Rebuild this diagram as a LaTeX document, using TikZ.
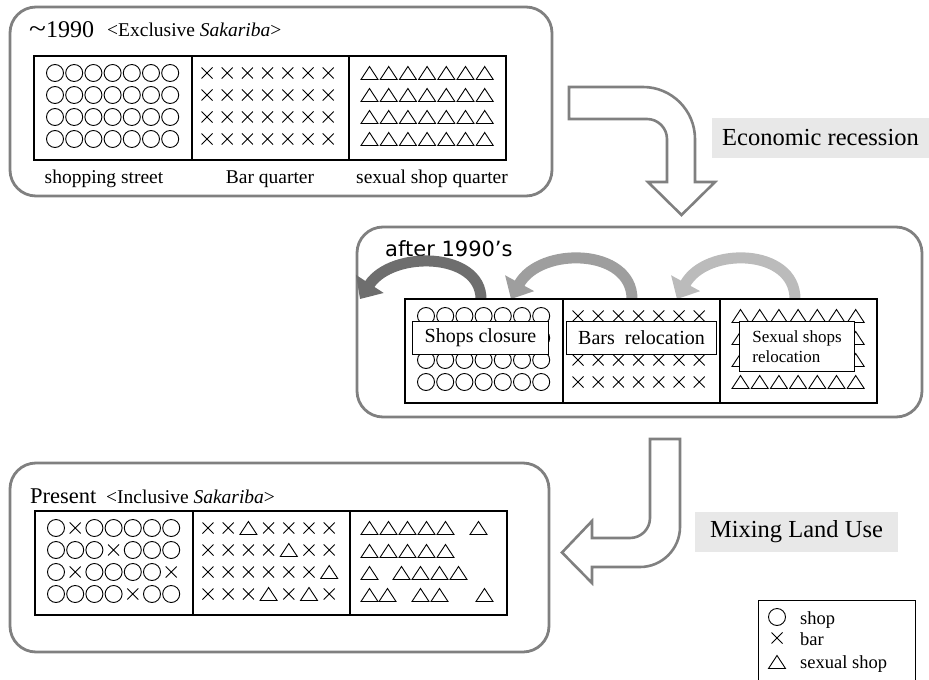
\documentclass[tikz,border=0pt]{standalone}
\usepackage{fontspec}
\setmainfont{Liberation Serif}
\newfontfamily\gothic{DejaVu Sans}
\usetikzlibrary{arrows.meta,calc}
\definecolor{panelgray}{HTML}{808080}
\definecolor{labelbg}{HTML}{E8E8E8}
\definecolor{arrdark}{HTML}{6E6E6E}
\definecolor{arrmid}{HTML}{9E9E9E}
\definecolor{arrlight}{HTML}{BBBBBB}
\newcommand{\setfs}[1]{\fontsize{#1}{#1}\selectfont}
\newcommand{\symb}[3]{%
  \if o#1\draw[sym] (#2,#3) circle[radius=8.5pt];\fi
  \if x#1\draw[sym,shift={(#2,#3)}] (-5.5,-5.5) -- (5.5,5.5) (-5.5,5.5) -- (5.5,-5.5);\fi
  \if t#1\draw[sym,shift={(#2,#3)}] (-8.5,6.5) -- (0,-6.5) -- (8.5,6.5) -- cycle;\fi}
% \symcol{ox}{oy}{x0}{dx}{rows}
\newcommand{\symcol}[5]{%
  \foreach \rw [count=\r from 0] in {#5} {
    \pgfmathsetmacro\yy{#2+{17,39,61,83}[\r]}
    \foreach \s [count=\i from 0] in \rw {
      \pgfmathsetmacro\xx{#1+#3+#4*\i}
      \symb{\s}{\xx}{\yy}
    }
  }}
\newcommand{\gridframe}[2]{%
  \draw[gridbox] (#1,#2) rectangle ++(472,104);
  \draw[gridbox] ($(#1,#2)+(158,0)$) -- ++(0,104);
  \draw[gridbox] ($(#1,#2)+(315,0)$) -- ++(0,104);}
\begin{document}
\begin{tikzpicture}[x=1pt,y=-1pt,
  panel/.style={draw=panelgray, line width=2.8pt, rounded corners=26pt},
  gridbox/.style={draw=black, line width=2.4pt},
  sym/.style={draw=black, line width=0.9pt},
  bigarrow/.style={draw=panelgray, line width=2.6pt, fill=white, line join=miter},
  tag/.style={fill=labelbg, inner sep=0pt},
  lbl/.style={draw=black, line width=1pt, fill=white, inner sep=0pt},
  curved/.style={line width=11pt, -{Triangle[length=18pt,width=32pt]}},
  txt/.style={inner sep=0pt}]
\useasboundingbox (0,0) rectangle (929,680);
% panels
\draw[panel] (10,7) rectangle (552,196);
\draw[panel] (357,227) rectangle (922,417);
\draw[panel] (10,463) rectangle (549,652);
% hollow arrows
\draw[bigarrow] (569,87) -- (643,87) .. controls (671.7,87) and (695,110.3) .. (695,139)
  -- (695,182) -- (715,182) -- (681.5,215) -- (648,182) -- (667,182) -- (667,139)
  .. controls (667,128) and (658,119) .. (647,119) -- (569,119) -- cycle;
\draw[bigarrow] (650,439) -- (680,439) -- (680,527) .. controls (680,549) and (662,567) .. (640,567)
  -- (592,567) -- (592,583) -- (562,552.5) -- (592,521) -- (592,538) -- (630,538)
  .. controls (641,538) and (650,529) .. (650,518) -- cycle;
\node[tag, minimum width=217, minimum height=40, font=\setfs{24.5}] (er) at (820.5,138) {Economic recession};
\node[tag, minimum width=203, minimum height=40, font=\setfs{24.5}] (ml) at (796.5,532) {Mixing Land Use};
% top panel
\node[txt, anchor=base west, font=\setfs{24}] (t1) at (29,37) {\scalebox{1.3}[1.1]{\textasciitilde}1990};
\node[txt, anchor=base west, font=\setfs{19.5}] (t1b) at (107,36) {<Exclusive \textit{Sakariba}>};
\symcol{34}{56}{21}{19.2}{{o,o,o,o,o,o,o},{o,o,o,o,o,o,o},{o,o,o,o,o,o,o},{o,o,o,o,o,o,o}}
\symcol{34}{56}{173}{20.2}{{x,x,x,x,x,x,x},{x,x,x,x,x,x,x},{x,x,x,x,x,x,x},{x,x,x,x,x,x,x}}
\symcol{34}{56}{335.5}{19.2}{{t,t,t,t,t,t,t},{t,t,t,t,t,t,t},{t,t,t,t,t,t,t},{t,t,t,t,t,t,t}}
\gridframe{34}{56}
\node[txt, anchor=base, font=\setfs{19.5}] (c1) at (104,183) {shopping street};
\node[txt, anchor=base, font=\setfs{19.5}] (c2) at (270,183) {Bar quarter};
\node[txt, anchor=base, font=\setfs{19.5}] (c3) at (432,183) {sexual shop quarter};
% middle panel
\node[txt, anchor=base west, font=\gothic\setfs{21}] (t2) at (385,256) {after 1990’s};
\coordinate (d0) at (481,299); \coordinate (d1) at (360,299);
\coordinate (m0) at (632,299); \coordinate (m1) at (511,299);
\coordinate (l0) at (795,299); \coordinate (l1) at (677,299);
\draw[curved, draw=arrdark] (d0) .. controls (481,252) and (392,250) .. (d1);
\draw[curved, draw=arrmid] (m0) .. controls (632,248) and (540,246) .. (m1);
\draw[curved, draw=arrlight] (l0) .. controls (795,248) and (706,246) .. (l1);
\symcol{405}{299}{21}{19.2}{{o,o,o,o,o,o,o},{o,o,o,o,o,o,o},{o,o,o,o,o,o,o},{o,o,o,o,o,o,o}}
\symcol{405}{299}{173}{20.2}{{x,x,x,x,x,x,x},{x,x,x,x,x,x,x},{x,x,x,x,x,x,x},{x,x,x,x,x,x,x}}
\symcol{405}{299}{335.5}{19.2}{{t,t,t,t,t,t,t},{t,t,t,t,t,t,t},{t,t,t,t,t,t,t},{t,t,t,t,t,t,t}}
\gridframe{405}{299}
\node[lbl, minimum width=136, minimum height=33, anchor=north west, font=\setfs{20}] (sc) at (412,321) {Shops closure};
\node[lbl, minimum width=150, minimum height=33, anchor=north west, font=\setfs{20}] (br) at (566,321) {Bars\ \ relocation};
\node[lbl, minimum width=115, minimum height=50, anchor=north west, align=left, font=\fontsize{17}{20}\selectfont] (sr) at (739,321) {Sexual shops\\relocation};
% bottom panel
\node[txt, anchor=base west, font=\setfs{22.5}] (t3) at (30,503) {Present};
\node[txt, anchor=base west, font=\setfs{19.5}] (t3b) at (106,503) {<Inclusive \textit{Sakariba}>};
\symcol{35}{511}{21}{19.2}{{o,x,o,o,o,o,o},{o,o,o,x,o,o,o},{o,x,o,o,o,o,x},{o,o,o,o,x,o,o}}
\symcol{35}{511}{173}{20.2}{{x,x,t,x,x,x,x},{x,x,x,x,t,x,x},{x,x,x,x,x,x,t},{x,x,x,t,x,t,x}}
\foreach \xx in {369.5,388.5,407.5,426.5,445.5,478.5} {\symb{t}{\xx}{528}}
\foreach \xx in {369.5,388.5,407.5,426.5,445.5} {\symb{t}{\xx}{551}}
\foreach \xx in {369.5,401.5,420.5,439.5,458.5} {\symb{t}{\xx}{573}}
\foreach \xx in {369.5,387.5,420.5,439.5,484.5} {\symb{t}{\xx}{595}}
\gridframe{35}{511}
% legend
\draw[line width=1pt] (758,680) -- (758,600) -- (915,600) -- (915,680);
\symb{o}{777}{617}
\symb{x}{777}{638}
\symb{t}{777}{662}
\node[txt, anchor=base west, font=\setfs{18.5}] (lg1) at (800,624) {shop};
\node[txt, anchor=base west, font=\setfs{18.5}] (lg2) at (800,645) {bar};
\node[txt, anchor=base west, font=\setfs{18.5}] (lg3) at (800,668) {sexual shop};
\end{tikzpicture}
\end{document}
